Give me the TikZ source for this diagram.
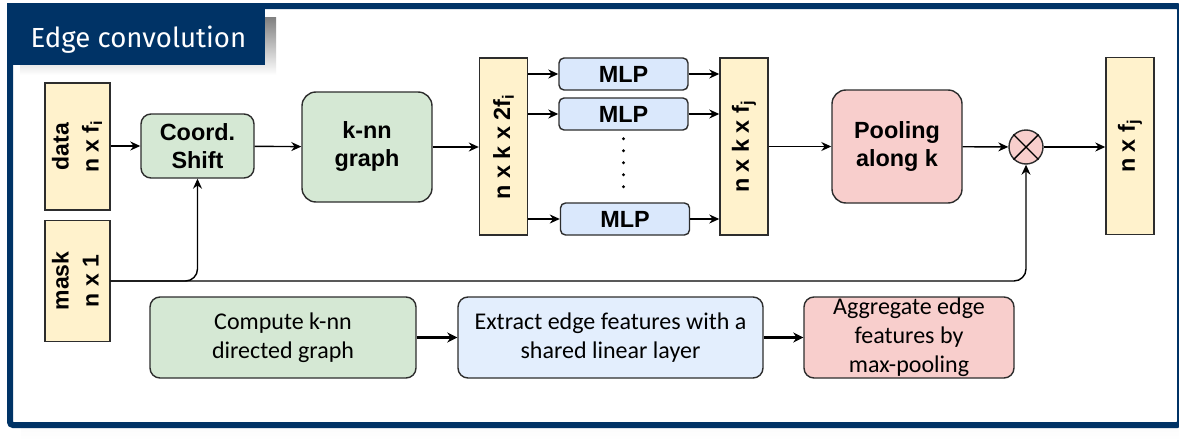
\documentclass[tikz,border=0pt]{standalone}
\usepackage{fontspec}
\usepackage{graphicx}
\usepackage{tikz}
\usetikzlibrary{arrows.meta}
\usetikzlibrary{shapes}
\usetikzlibrary{positioning}
\setmainfont{Liberation Sans}
\newfontfamily\headfont{Fira Sans}
\newfontfamily\notefont{Carlito}
\definecolor{navy}{RGB}{0,51,102}
\definecolor{shade}{RGB}{191,191,191}
\definecolor{wire}{RGB}{45,45,45}
\definecolor{tnsfill}{HTML}{FFF2CC}
\definecolor{opgreen}{HTML}{D5E8D4}
\definecolor{opblue}{HTML}{DAE8FC}
\definecolor{oppink}{HTML}{F8CECC}
\tikzstyle{tns} = [rectangle, draw=wire, fill=tnsfill, inner sep=0pt,
    font=\bfseries\fontsize{11.7}{14}\selectfont, minimum width=24pt, minimum height=88.5pt]
\tikzstyle{op} = [rectangle, draw=wire, rounded corners=5pt, align=center, inner sep=0pt,
    font=\bfseries\fontsize{11.7}{14}\selectfont]
\tikzstyle{mlp} = [op, fill=opblue, rounded corners=2.5pt, minimum width=64.5pt, minimum height=16pt]
\tikzstyle{note} = [rectangle, draw=wire, rounded corners=5pt, align=center, inner sep=0pt,
    font=\notefont\fontsize{12}{14.5}\selectfont, minimum height=40.5pt]

\begin{document}
\begin{tikzpicture}[->,>={Stealth[length=5pt,width=4.5pt]},line width=0.7pt,x=0.5pt,y=-0.5pt]
  \useasboundingbox (0,0) rectangle (1179,439);

  % frame with its shadow and the title tab
  \fill[shade] (21,16) rectangle (1195,440);
  \draw[navy, line width=3pt, fill=white, rounded corners=1.5pt] (10,6) rectangle (1180,425);
  \fill[shade] (20,17) rectangle (276,75);
  \fill[navy] (7,3) rectangle (265,65);
  \node[anchor=base west, text=white, inner sep=0pt,
        font=\headfont\fontsize{13.8}{16}\selectfont] (title) at (30,47) {Edge convolution};

  % inputs
  \node[tns, minimum width=32.5pt, minimum height=63.5pt, font=\bfseries\fontsize{11.5}{15}\selectfont]
        (data) at (77.5,146.5) {\rotatebox{90}{\begin{tabular}{@{}c@{}}data\\n x f\textsubscript{i}\end{tabular}}};
  \node[tns, minimum width=32.5pt, minimum height=60.5pt, font=\bfseries\fontsize{11.5}{15}\selectfont]
        (mask) at (77.5,281) {\rotatebox{90}{\begin{tabular}{@{}c@{}}mask\\n x 1\end{tabular}}};

  % main chain
  \node[op, fill=opgreen, minimum width=56.5pt, minimum height=32pt] (coord) at (197.5,146) {Coord.\\Shift};
  \node[op, fill=opgreen, rounded corners=7pt, minimum width=65pt, minimum height=55pt] (knn) at (367,147) {k-nn\\graph};
  \node[tns] (k2f) at (503.5,146.5) {\rotatebox{90}{n x k x 2f\textsubscript{i}}};
  \node[mlp] (mlpA) at (623.5,74) {MLP};
  \node[mlp] (mlpB) at (623.5,114) {MLP};
  \node[mlp] (mlpC) at (625,219) {MLP};
  \node[tns] (kfj) at (744,146.5) {\rotatebox{90}{n x k x f\textsubscript{j}}};
  \node[op, fill=oppink, rounded corners=7pt, minimum width=65pt, minimum height=56.5pt] (pool) at (897,146.5) {Pooling\\along k};
  \node[circle, draw=wire, fill=oppink, minimum size=17pt, inner sep=0pt] (prod) at (1026,147) {};
  \node[tns] (out) at (1130,146) {\rotatebox{90}{n x f\textsubscript{j}}};

  \draw[-] (prod.north west) -- (prod.south east);
  \draw[-] (prod.north east) -- (prod.south west);

  \path (data.east |- coord) edge (coord)
        (coord) edge (knn)
        (knn) edge (k2f.west |- knn)
        (k2f.east |- mlpA) edge (mlpA)
        (k2f.east |- mlpB) edge (mlpB)
        (k2f.east |- mlpC) edge (mlpC)
        (mlpA) edge (kfj.west |- mlpA)
        (mlpB) edge (kfj.west |- mlpB)
        (mlpC) edge (kfj.west |- mlpC)
        (kfj.east |- pool) edge (pool)
        (pool) edge (prod)
        (prod) edge (out.west |- prod);
  \draw[-, line width=1.6pt, line cap=round, dash pattern=on 0pt off 6pt, shorten <=4pt, shorten >=2pt]
        (mlpB.south) -- (mlpB.south |- mlpC.north);

  % mask goes to the shift and to the product
  \draw[rounded corners=6pt] (mask.east) -| (coord.south);
  \draw[rounded corners=6pt] (mask.east) -| (prod.south);

  % summary of the three steps
  \node[note, fill=opgreen, minimum width=133pt] (stepknn) at (283,337.5) {Compute k-nn\\directed graph};
  \node[note, fill=opblue!75!white, minimum width=152.5pt] (stepmlp) at (610.5,337.5) {Extract edge features with a\\shared linear layer};
  \node[note, fill=oppink, minimum width=105pt] (steppool) at (909,337.5) {Aggregate edge\\features by\\max-pooling};

  \draw[line width=1.6pt, -{Stealth[length=5pt,width=5pt]}] (stepknn) -- (stepmlp);
  \draw[line width=1.6pt, -{Stealth[length=5pt,width=5pt]}] (stepmlp) -- (steppool);
\end{tikzpicture}
\end{document}
